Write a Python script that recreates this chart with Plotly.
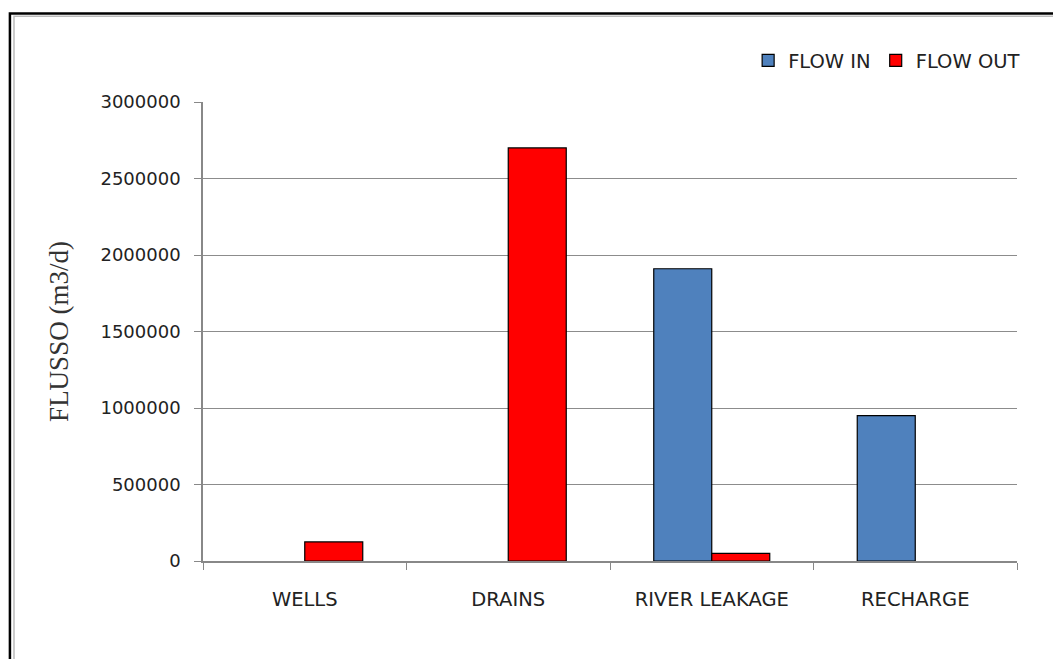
import plotly.graph_objects as go

categories = ["WELLS", "DRAINS", "RIVER LEAKAGE", "RECHARGE"]
# None = no bar drawn for that series
flow_in = [None, None, 1910000, 950000]
flow_out = [125000, 2700000, 50000, None]
y_ticks = [0, 500000, 1000000, 1500000, 2000000, 2500000, 3000000]

tick_font = dict(family="DejaVu Sans", size=18, color="#222222")

fig = go.Figure()
fig.add_trace(go.Bar(
    x=categories, y=flow_in, name="FLOW IN",
    marker=dict(color="#4F81BD", line=dict(color="black", width=1.2)),
))
fig.add_trace(go.Bar(
    x=categories, y=flow_out, name="FLOW OUT",
    marker=dict(color="#FF0000", line=dict(color="black", width=1.2)),
))

# outer frame of the chart (double border, clipped at right/bottom)
fig.add_shape(type="rect", xref="paper", yref="paper",
              x0=-0.2372, x1=1.08, y0=-0.25, y1=1.193,
              line=dict(color="black", width=2.5), layer="below")
fig.add_shape(type="rect", xref="paper", yref="paper",
              x0=-0.2322, x1=1.08, y0=-0.25, y1=1.187,
              line=dict(color="#BBBBBB", width=1.5), layer="below")

fig.update_layout(
    width=1061, height=659,
    margin=dict(l=195, r=52, t=94, b=106),
    paper_bgcolor="white", plot_bgcolor="white",
    barmode="group", bargap=0.43, bargroupgap=0,
    font=tick_font,
    legend=dict(orientation="h", x=1.01, xanchor="right", y=1.09, yanchor="middle",
                font=dict(family="DejaVu Sans", size=19.5, color="#222222"),
                traceorder="normal"),
    xaxis=dict(
        tickson="boundaries", ticks="outside", ticklen=7, tickcolor="#888888",
        showline=True, linecolor="#888888", linewidth=1.5,
        showgrid=False, tickfont=dict(family="DejaVu Sans", size=19.5, color="#222222"),
        ticklabelstandoff=20,
    ),
    yaxis=dict(
        range=[0, 3000000], tickvals=y_ticks, ticktext=[str(v) for v in y_ticks],
        ticks="outside", ticklen=7, tickcolor="#888888",
        showline=True, linecolor="#888888", linewidth=1.5,
        showgrid=True, gridcolor="#8C8C8C", gridwidth=1,
        zeroline=False, tickfont=tick_font, ticklabelstandoff=10,
        title=dict(text="FLUSSO (m3/d)", standoff=24,
                   font=dict(family="Liberation Serif", size=27, color="#333333")),
    ),
)

fig.write_html("out.html")
